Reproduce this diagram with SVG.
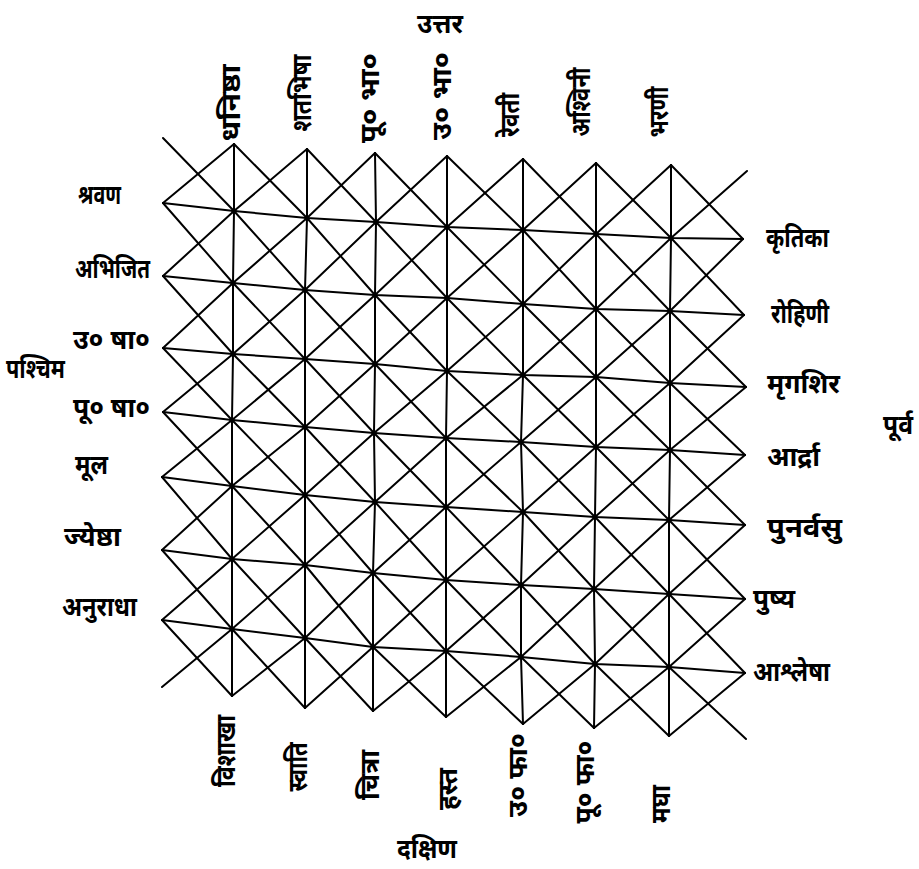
<svg xmlns="http://www.w3.org/2000/svg" width="919" height="869" viewBox="0 0 919 869">
<style>
.bg{fill:#fff}
.ln{fill:none;stroke:#000;stroke-width:2;stroke-linejoin:round;stroke-linecap:round}
.dot{fill:#000}
.t{font-family:"Noto Sans","Noto Sans Devanagari","Lohit Devanagari","FreeSans",sans-serif;font-size:27px;font-weight:bold;fill:#000}
.m{text-anchor:middle}
</style>
<rect class="bg" x="0" y="0" width="919" height="869"/>
<g id="connectors">
<g id="verticals">
<polyline class="ln" points="234,144 234,211 233,283 233,354 232,420 232,486 232,559 232,629 232,696"/>
<polyline class="ln" points="307,149 307,218 305,290 305,359 305,427 305,495 305,565 305,638 305,708"/>
<polyline class="ln" points="375,153 376,222 375,295 375,364 374,433 375,502 373,573 373,647 373,711"/>
<polyline class="ln" points="447,156 447,227 447,298 447,371 446,438 446,507 446,580 446,651 446,717"/>
<polyline class="ln" points="523,159 523,230 523,304 523,375 521,442 523,512 521,585 521,657 523,724"/>
<polyline class="ln" points="596,163 596,234 596,309 596,377 596,447 595,517 594,589 595,664 594,728"/>
<polyline class="ln" points="671,165 671,238 670,311 670,383 670,450 669,520 669,594 669,667 669,736"/>
</g>
<g id="rows">
<polyline class="ln" points="163,203 234,211 307,218 376,222 447,227 523,230 596,234 671,238 743,239"/>
<polyline class="ln" points="163,276 233,283 305,290 375,295 447,298 523,304 596,309 670,311 744,315"/>
<polyline class="ln" points="163,348 233,354 305,359 375,364 447,371 523,375 596,377 670,383 746,387"/>
<polyline class="ln" points="163,412 232,420 305,427 374,433 446,438 521,442 596,447 670,450 745,455"/>
<polyline class="ln" points="162,477 232,486 305,495 375,502 446,507 523,512 595,517 669,520 745,525"/>
<polyline class="ln" points="162,550 232,559 305,565 373,573 446,580 521,585 594,589 669,594 745,599"/>
<polyline class="ln" points="162,620 232,629 305,638 373,647 446,651 521,657 595,664 669,667 745,673"/>
</g>
<g id="diag-down">
<polyline class="ln" points="163,138 234,211 305,290 375,364 446,438 523,512 594,589 669,667 746,739"/>
<polyline class="ln" points="234,144 307,218 375,295 447,371 521,442 595,517 669,594 745,673"/>
<polyline class="ln" points="307,149 376,222 447,298 523,375 596,447 669,520 745,599"/>
<polyline class="ln" points="375,153 447,227 523,304 596,377 670,450 745,525"/>
<polyline class="ln" points="447,156 523,230 596,309 670,383 745,455"/>
<polyline class="ln" points="523,159 596,234 670,311 746,387"/>
<polyline class="ln" points="596,163 671,238 744,315"/>
<polyline class="ln" points="671,165 743,239"/>
<polyline class="ln" points="163,203 233,283 305,359 374,433 446,507 521,585 595,664 669,736"/>
<polyline class="ln" points="163,276 233,354 305,427 375,502 446,580 521,657 594,728"/>
<polyline class="ln" points="163,348 232,420 305,495 373,573 446,651 523,724"/>
<polyline class="ln" points="163,412 232,486 305,565 373,647 446,717"/>
<polyline class="ln" points="162,477 232,559 305,638 373,711"/>
<polyline class="ln" points="162,550 232,629 305,708"/>
<polyline class="ln" points="162,620 232,696"/>
</g>
<g id="diag-up">
<polyline class="ln" points="234,144 163,203"/>
<polyline class="ln" points="307,149 234,211 163,276"/>
<polyline class="ln" points="375,153 307,218 233,283 163,348"/>
<polyline class="ln" points="447,156 376,222 305,290 233,354 163,412"/>
<polyline class="ln" points="523,159 447,227 375,295 305,359 232,420 162,477"/>
<polyline class="ln" points="596,163 523,230 447,298 375,364 305,427 232,486 162,550"/>
<polyline class="ln" points="671,165 596,234 523,304 447,371 374,433 305,495 232,559 162,620"/>
<polyline class="ln" points="747,171 671,238 596,309 523,375 446,438 375,502 305,565 232,629 162,687"/>
<polyline class="ln" points="743,239 670,311 596,377 521,442 446,507 373,573 305,638 232,696"/>
<polyline class="ln" points="744,315 670,383 596,447 523,512 446,580 373,647 305,708"/>
<polyline class="ln" points="746,387 670,450 595,517 521,585 446,651 373,711"/>
<polyline class="ln" points="745,455 669,520 594,589 521,657 446,717"/>
<polyline class="ln" points="745,525 669,594 595,664 523,724"/>
<polyline class="ln" points="745,599 669,667 594,728"/>
<polyline class="ln" points="745,673 669,736"/>
</g>
<g id="nodes-dots">
<circle class="dot" cx="234" cy="211" r="2.6"/><circle class="dot" cx="307" cy="218" r="2.6"/><circle class="dot" cx="376" cy="222" r="2.6"/><circle class="dot" cx="447" cy="227" r="2.6"/><circle class="dot" cx="523" cy="230" r="2.6"/><circle class="dot" cx="596" cy="234" r="2.6"/><circle class="dot" cx="671" cy="238" r="2.6"/>
<circle class="dot" cx="233" cy="283" r="2.6"/><circle class="dot" cx="305" cy="290" r="2.6"/><circle class="dot" cx="375" cy="295" r="2.6"/><circle class="dot" cx="447" cy="298" r="2.6"/><circle class="dot" cx="523" cy="304" r="2.6"/><circle class="dot" cx="596" cy="309" r="2.6"/><circle class="dot" cx="670" cy="311" r="2.6"/>
<circle class="dot" cx="233" cy="354" r="2.6"/><circle class="dot" cx="305" cy="359" r="2.6"/><circle class="dot" cx="375" cy="364" r="2.6"/><circle class="dot" cx="447" cy="371" r="2.6"/><circle class="dot" cx="523" cy="375" r="2.6"/><circle class="dot" cx="596" cy="377" r="2.6"/><circle class="dot" cx="670" cy="383" r="2.6"/>
<circle class="dot" cx="232" cy="420" r="2.6"/><circle class="dot" cx="305" cy="427" r="2.6"/><circle class="dot" cx="374" cy="433" r="2.6"/><circle class="dot" cx="446" cy="438" r="2.6"/><circle class="dot" cx="521" cy="442" r="2.6"/><circle class="dot" cx="596" cy="447" r="2.6"/><circle class="dot" cx="670" cy="450" r="2.6"/>
<circle class="dot" cx="232" cy="486" r="2.6"/><circle class="dot" cx="305" cy="495" r="2.6"/><circle class="dot" cx="375" cy="502" r="2.6"/><circle class="dot" cx="446" cy="507" r="2.6"/><circle class="dot" cx="523" cy="512" r="2.6"/><circle class="dot" cx="595" cy="517" r="2.6"/><circle class="dot" cx="669" cy="520" r="2.6"/>
<circle class="dot" cx="232" cy="559" r="2.6"/><circle class="dot" cx="305" cy="565" r="2.6"/><circle class="dot" cx="373" cy="573" r="2.6"/><circle class="dot" cx="446" cy="580" r="2.6"/><circle class="dot" cx="521" cy="585" r="2.6"/><circle class="dot" cx="594" cy="589" r="2.6"/><circle class="dot" cx="669" cy="594" r="2.6"/>
<circle class="dot" cx="232" cy="629" r="2.6"/><circle class="dot" cx="305" cy="638" r="2.6"/><circle class="dot" cx="373" cy="647" r="2.6"/><circle class="dot" cx="446" cy="651" r="2.6"/><circle class="dot" cx="521" cy="657" r="2.6"/><circle class="dot" cx="595" cy="664" r="2.6"/><circle class="dot" cx="669" cy="667" r="2.6"/>
</g>
</g>
<g id="dir-north"><text class="t m" x="440" y="33" textLength="46" lengthAdjust="spacingAndGlyphs">उत्तर</text></g>
<g id="dir-south"><text class="t m" x="427" y="858" textLength="60" lengthAdjust="spacingAndGlyphs">दक्षिण</text></g>
<g id="dir-west"><text class="t" x="6" y="378" textLength="59" lengthAdjust="spacingAndGlyphs">पश्चिम</text></g>
<g id="dir-east"><text class="t" x="883" y="434" textLength="30" lengthAdjust="spacingAndGlyphs">पूर्व</text></g>
<g id="n-dhanishtha"><text class="t m" transform="translate(240,103) rotate(-90)" textLength="77" lengthAdjust="spacingAndGlyphs">धनिष्ठा</text></g>
<g id="n-shatabhisha"><text class="t m" transform="translate(311,93) rotate(-90)" textLength="77" lengthAdjust="spacingAndGlyphs">शतभिषा</text></g>
<g id="n-purvabhadra"><text class="t m" transform="translate(379,98) rotate(-90)" textLength="90" lengthAdjust="spacingAndGlyphs">पू० भा०</text></g>
<g id="n-uttarabhadra"><text class="t m" transform="translate(451,96) rotate(-90)" textLength="88" lengthAdjust="spacingAndGlyphs">उ० भा०</text></g>
<g id="n-revati"><text class="t m" transform="translate(519,115) rotate(-90)" textLength="44" lengthAdjust="spacingAndGlyphs">रेवती</text></g>
<g id="n-ashvini"><text class="t m" transform="translate(590,102) rotate(-90)" textLength="69" lengthAdjust="spacingAndGlyphs">अश्विनी</text></g>
<g id="n-bharani"><text class="t m" transform="translate(668,112) rotate(-90)" textLength="51" lengthAdjust="spacingAndGlyphs">भरणी</text></g>
<g id="n-vishakha"><text class="t m" transform="translate(235,751) rotate(-90)" textLength="72" lengthAdjust="spacingAndGlyphs">विशाखा</text></g>
<g id="n-svati"><text class="t m" transform="translate(307,767) rotate(-90)" textLength="49" lengthAdjust="spacingAndGlyphs">स्वाति</text></g>
<g id="n-chitra"><text class="t m" transform="translate(379,775) rotate(-90)" textLength="50" lengthAdjust="spacingAndGlyphs">चित्रा</text></g>
<g id="n-hasta"><text class="t m" transform="translate(457,789) rotate(-90)" textLength="42" lengthAdjust="spacingAndGlyphs">हस्त</text></g>
<g id="n-uttaraphalguni"><text class="t m" transform="translate(527,775) rotate(-90)" textLength="84" lengthAdjust="spacingAndGlyphs">उ० फा०</text></g>
<g id="n-purvaphalguni"><text class="t m" transform="translate(594,782) rotate(-90)" textLength="83" lengthAdjust="spacingAndGlyphs">पू० फा०</text></g>
<g id="n-magha"><text class="t m" transform="translate(670,804) rotate(-90)" textLength="38" lengthAdjust="spacingAndGlyphs">मघा</text></g>
<g id="n-shravana"><text class="t" x="78" y="204" textLength="43" lengthAdjust="spacingAndGlyphs">श्रवण</text></g>
<g id="n-abhijit"><text class="t" x="75" y="278" textLength="75" lengthAdjust="spacingAndGlyphs">अभिजित</text></g>
<g id="n-uttarashadha"><text class="t" x="73" y="349" textLength="77" lengthAdjust="spacingAndGlyphs">उ० षा०</text></g>
<g id="n-purvashadha"><text class="t" x="73" y="417" textLength="77" lengthAdjust="spacingAndGlyphs">पू० षा०</text></g>
<g id="n-mula"><text class="t" x="75" y="474" textLength="33" lengthAdjust="spacingAndGlyphs">मूल</text></g>
<g id="n-jyeshtha"><text class="t" x="64" y="546" textLength="57" lengthAdjust="spacingAndGlyphs">ज्येष्ठा</text></g>
<g id="n-anuradha"><text class="t" x="62" y="616" textLength="75" lengthAdjust="spacingAndGlyphs">अनुराधा</text></g>
<g id="n-krittika"><text class="t" x="766" y="247" textLength="63" lengthAdjust="spacingAndGlyphs">कृतिका</text></g>
<g id="n-rohini"><text class="t" x="771" y="323" textLength="58" lengthAdjust="spacingAndGlyphs">रोहिणी</text></g>
<g id="n-mrigashira"><text class="t" x="767" y="393" textLength="73" lengthAdjust="spacingAndGlyphs">मृगशिर</text></g>
<g id="n-ardra"><text class="t" x="767" y="466" textLength="53" lengthAdjust="spacingAndGlyphs">आर्द्रा</text></g>
<g id="n-punarvasu"><text class="t" x="767" y="537" textLength="75" lengthAdjust="spacingAndGlyphs">पुनर्वसु</text></g>
<g id="n-pushya"><text class="t" x="753" y="608" textLength="42" lengthAdjust="spacingAndGlyphs">पुष्य</text></g>
<g id="n-ashlesha"><text class="t" x="753" y="681" textLength="77" lengthAdjust="spacingAndGlyphs">आश्लेषा</text></g>
</svg>
